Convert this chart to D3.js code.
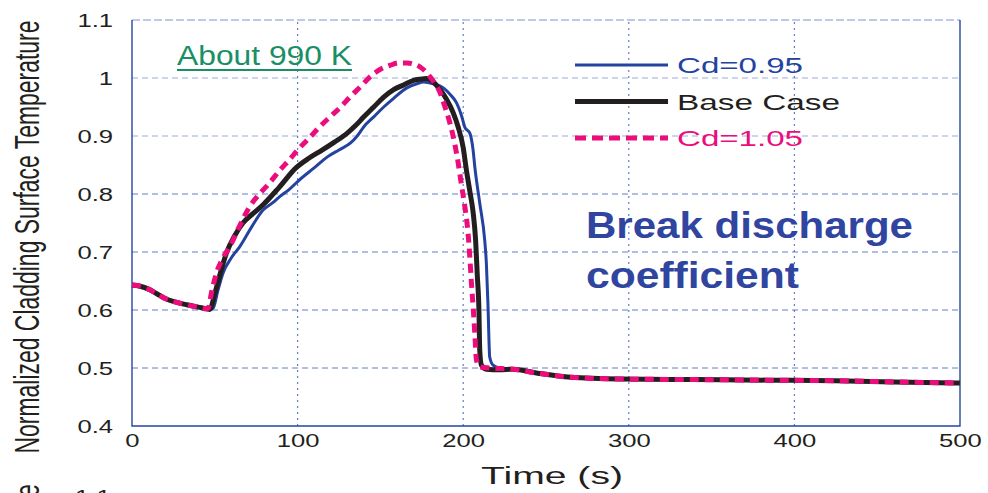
<!DOCTYPE html>
<html>
<head>
<meta charset="utf-8">
<script src="https://cdnjs.cloudflare.com/ajax/libs/d3/7.8.5/d3.min.js"></script>
<style>
  body { margin: 0; background: #fff; }
  svg { display: block; font-family: "Liberation Sans", Arial, sans-serif; }
</style>
</head>
<body>
<script>
// time (s) and normalized cladding temperature
const startT = [0, 5, 10, 15, 20, 26, 33, 40, 45];
const startV = [0.643, 0.641, 0.636, 0.628, 0.620, 0.614, 0.609, 0.605, 0.602];

const tailT = [230, 245, 265, 295, 340, 385, 425, 460, 500];
const tailV = [0.498, 0.491, 0.484, 0.481, 0.480, 0.479, 0.478, 0.476, 0.474];

const baseT = [47, 50, 53, 57, 62, 67, 73, 79, 89, 99, 107, 115, 122, 130, 135, 140, 146, 152, 158, 164, 170, 174, 178, 182, 186, 190, 194, 197, 200, 202, 204, 206, 207.5, 208.5, 209.5, 210, 211, 214, 222];
const baseV = [0.601, 0.628, 0.660, 0.698, 0.728, 0.750, 0.766, 0.781, 0.812, 0.845, 0.862, 0.876, 0.889, 0.905, 0.918, 0.933, 0.950, 0.967, 0.980, 0.988, 0.996, 0.998, 0.999, 0.993, 0.980, 0.963, 0.940, 0.915, 0.880, 0.840, 0.805, 0.768, 0.720, 0.660, 0.600, 0.530, 0.505, 0.498, 0.497];

const lowT = [47, 49, 52, 55, 60, 65, 72, 79, 85, 89, 95, 101, 110, 118, 125, 132, 136, 140, 146, 152, 158, 166, 172, 176, 182, 188, 192, 196, 199, 201, 204, 206, 207, 210, 213, 214, 215, 216, 218, 222];
const lowV = [0.601, 0.603, 0.635, 0.664, 0.690, 0.709, 0.742, 0.772, 0.785, 0.795, 0.808, 0.824, 0.845, 0.864, 0.876, 0.888, 0.900, 0.916, 0.933, 0.950, 0.965, 0.983, 0.990, 0.993, 0.990, 0.983, 0.972, 0.957, 0.935, 0.915, 0.905, 0.875, 0.847, 0.784, 0.720, 0.680, 0.605, 0.519, 0.505, 0.500];

const highT = [46, 48, 51, 55, 59, 65, 71, 77, 83, 89, 95, 101, 107.5, 113, 119.6, 126, 131.6, 138, 143.7, 150, 156, 161, 166, 170, 174, 177, 180, 183, 186, 189, 192, 195, 197, 199, 201, 203, 204, 205, 206, 207, 208, 210, 216];
const highV = [0.603, 0.630, 0.664, 0.690, 0.709, 0.745, 0.778, 0.800, 0.819, 0.840, 0.859, 0.879, 0.898, 0.915, 0.933, 0.950, 0.967, 0.985, 1.002, 1.015, 1.022, 1.026, 1.026, 1.024, 1.019, 1.012, 1.002, 0.990, 0.975, 0.950, 0.922, 0.885, 0.853, 0.815, 0.778, 0.730, 0.691, 0.645, 0.605, 0.560, 0.514, 0.502, 0.500];

const seriesNames = ["Cd=0.95", "Base Case", "Cd=1.05"];
const xTicks = [0, 100, 200, 300, 400, 500];
const yTicks = [0.4, 0.5, 0.6, 0.7, 0.8, 0.9, 1.0, 1.1];

const W = 988, H = 493;
const m = { left: 132, right: 28, top: 20, bottom: 67 };

const svg = d3.select("body").append("svg")
  .attr("width", W).attr("height", H);

const x = d3.scaleLinear().domain([0, 500]).range([m.left, W - m.right]);
const y = d3.scaleLinear().domain([0.4, 1.1]).range([H - m.bottom, m.top]);

const pts = (t, v) => t.map((d, i) => [d, v[i]]);
const build = (t, v) => pts(startT, startV).concat(pts(t, v), pts(tailT, tailV));

const series = [
  { name: seriesNames[0], data: build(lowT, lowV), color: "#2443a0", width: 3, dash: null },
  { name: seriesNames[1], data: build(baseT, baseV), color: "#231f20", width: 5, dash: null },
  { name: seriesNames[2], data: build(highT, highV), color: "#ec0c7c", width: 5, dash: "9,6" }
];

// grid
svg.append("g").selectAll("line").data(yTicks.slice(1, -1)).enter().append("line")
  .attr("x1", x(0)).attr("x2", x(500))
  .attr("y1", d => y(d)).attr("y2", d => y(d))
  .attr("stroke", "#4868bb").attr("stroke-width", 1)
  .attr("stroke-dasharray", "6,4").attr("opacity", d => d >= 0.9 ? 0.55 : 0.85);
svg.append("g").selectAll("line").data(xTicks.slice(1, -1)).enter().append("line")
  .attr("y1", y(0.4)).attr("y2", y(1.1))
  .attr("x1", d => x(d)).attr("x2", d => x(d))
  .attr("stroke", "#4868bb").attr("stroke-width", 1.2)
  .attr("stroke-dasharray", "2,4").attr("opacity", 0.85);

// frame
svg.append("line").attr("x1", x(0)).attr("x2", x(500)).attr("y1", y(1.1)).attr("y2", y(1.1))
  .attr("stroke", "#4868bb").attr("stroke-dasharray", "8,3").attr("opacity", 0.7);
svg.append("path")
  .attr("d", `M${x(0)},${y(1.1)}V${y(0.4)}H${x(500)}V${y(1.1)}`)
  .attr("fill", "none").attr("stroke", "#2547a0").attr("stroke-width", 1.4);

// axes
const yAxis = svg.append("g").attr("transform", `translate(${x(0)},0)`)
  .call(d3.axisLeft(y).tickValues(yTicks).tickSize(0).tickPadding(14)
    .tickFormat(d => String(+d.toFixed(1))));
const xAxis = svg.append("g").attr("transform", `translate(0,${y(0.4)})`)
  .call(d3.axisBottom(x).tickValues(xTicks).tickSize(0).tickPadding(8));
[yAxis, xAxis].forEach(a => {
  a.select(".domain").remove();
  a.selectAll("text").attr("font-size", 19).attr("fill", "#231f20")
    .attr("font-family", "Liberation Sans, Arial, sans-serif")
    .attr("transform", "scale(1.35,1)");
});

// curves
const line = d3.line().x(d => x(d[0])).y(d => y(d[1])).curve(d3.curveMonotoneX);
svg.append("g").selectAll("path").data(series).enter().append("path")
  .attr("d", d => line(d.data))
  .attr("fill", "none")
  .attr("stroke", d => d.color)
  .attr("stroke-width", d => d.width)
  .attr("stroke-dasharray", d => d.dash)
  .attr("stroke-linejoin", "round");

// legend
const leg = svg.append("g").selectAll("g").data(series).enter().append("g")
  .attr("transform", (d, i) => `translate(575,${65 + i * 36.5})`);
leg.append("line").attr("x1", 0).attr("x2", 93)
  .attr("stroke", d => d.color).attr("stroke-width", d => d.width)
  .attr("stroke-dasharray", d => d.dash ? "11,6" : null);
leg.append("text").attr("x", 102).attr("y", 8)
  .attr("font-size", 22).attr("fill", d => d.color)
  .attr("textLength", (d, i) => i === 1 ? 163 : 126)
  .attr("lengthAdjust", "spacingAndGlyphs")
  .text(d => d.name);

// annotations
svg.append("text").attr("x", 177).attr("y", 65)
  .attr("font-size", 27).attr("fill", "#1a8f66")
  .attr("textLength", 175).attr("lengthAdjust", "spacingAndGlyphs")
  .text("About 990 K");
svg.append("line").attr("x1", 177).attr("x2", 352).attr("y1", 70).attr("y2", 70)
  .attr("stroke", "#1a8f66").attr("stroke-width", 2);

const note = svg.append("text").attr("font-size", 37).attr("font-weight", "bold")
  .attr("fill", "#2f45a0");
note.append("tspan").attr("x", 586).attr("y", 238)
  .attr("textLength", 327).attr("lengthAdjust", "spacingAndGlyphs").text("Break discharge");
note.append("tspan").attr("x", 586).attr("y", 288)
  .attr("textLength", 213).attr("lengthAdjust", "spacingAndGlyphs").text("coefficient");

// axis titles
svg.append("text").attr("x", 481).attr("y", 484)
  .attr("font-size", 23).attr("fill", "#231f20")
  .attr("textLength", 142).attr("lengthAdjust", "spacingAndGlyphs")
  .text("Time (s)");
svg.append("text")
  .attr("transform", "translate(39,237) rotate(-90) scale(1,1.5)")
  .attr("text-anchor", "middle")
  .attr("font-size", 23).attr("fill", "#231f20")
  .attr("textLength", 433).attr("lengthAdjust", "spacingAndGlyphs")
  .text("Normalized Cladding Surface Temperature");

// top of the next chart, cut off by the frame
svg.append("text").attr("x", 82).attr("y", 503).attr("text-anchor", "end")
  .attr("font-size", 19).attr("fill", "#231f20")
  .attr("transform", "scale(1.35,1)").text("1.1");
svg.append("text").attr("transform", "translate(39,497) rotate(-90) scale(1,1.5)")
  .attr("font-size", 23).attr("fill", "#231f20").text("e");
</script>
</body>
</html>
